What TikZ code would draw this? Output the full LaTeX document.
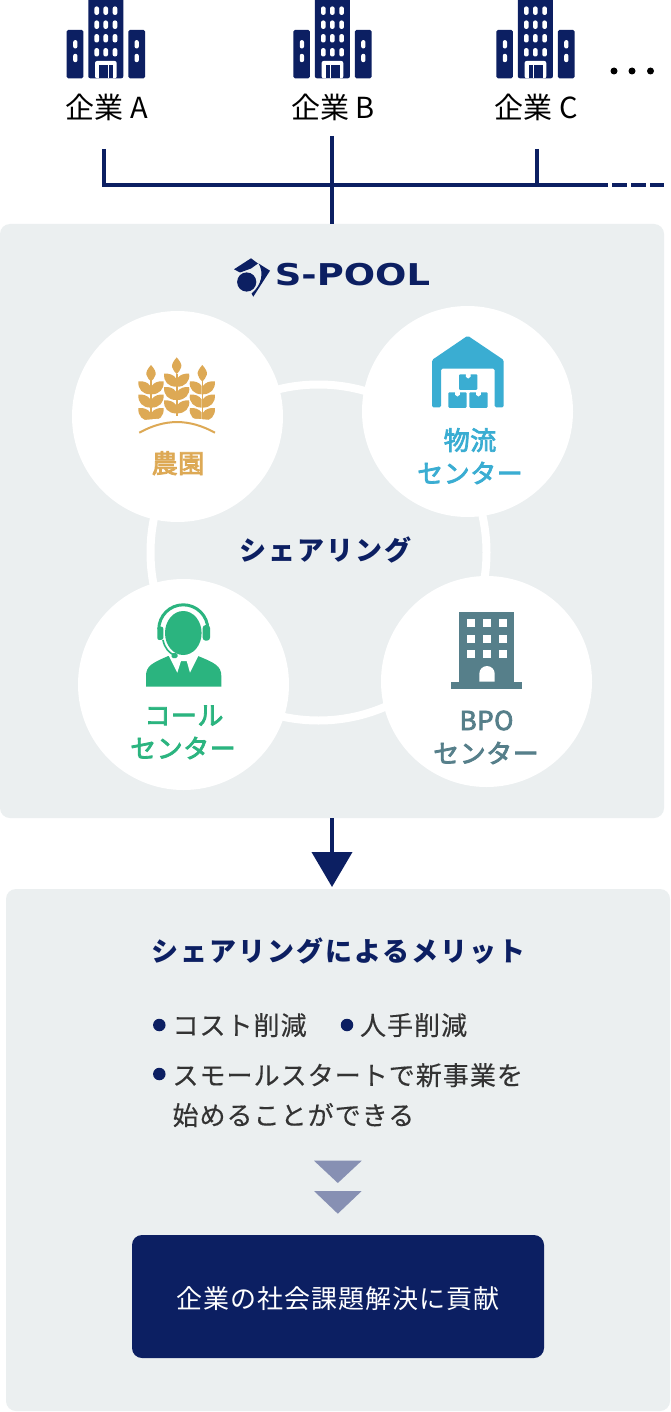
\documentclass[tikz,border=0pt]{standalone}
\usepackage{fontspec}
\usepackage{graphicx}
\usetikzlibrary{arrows.meta}
\setmainfont{Noto Sans CJK JP}
\newfontfamily\logofont{DejaVu Sans}
\definecolor{navy}{HTML}{0C1F62}
\definecolor{panelgrey}{HTML}{EBEFF0}
\definecolor{farmcol}{HTML}{DDA955}
\definecolor{logicol}{HTML}{3AADD2}
\definecolor{callcol}{HTML}{2BB47F}
\definecolor{bpocol}{HTML}{567F8A}
\definecolor{softtri}{HTML}{8790B3}
\definecolor{bodytext}{HTML}{333333}
\newcommand{\spaced}[1]{\addfontfeature{LetterSpace=#1}}
\newcommand{\spacedfat}[2]{\addfontfeature{LetterSpace=#1,FakeBold=#2}}
\tikzset{
  every node/.style={inner sep=0pt,outer sep=0pt},
  panelbox/.style={fill=panelgrey,rounded corners=10pt},
  whitedisc/.style={circle,fill=white,minimum size=211pt},
  buslink/.style={draw=navy,line width=4pt},
  companylabel/.style={anchor=base,font=\fontsize{29}{29}\selectfont,text=black},
  stationlabel/.style={anchor=base,font=\fontsize{26}{26}\selectfont\spacedfat{2}{3}},
  headlabel/.style={anchor=base,text=navy,font=\fontsize{27}{27}\selectfont\bfseries\spaced{7.5}},
  listtext/.style={anchor=base west,text=bodytext,font=\fontsize{26}{26}\selectfont\spacedfat{4}{0.3}},
  bulletdot/.style={circle,fill=navy,minimum size=12.5pt},
  building/.pic={
    \fill[navy,rounded corners=1.5pt] (0,30) rectangle (16.6,78.3);
    \fill[navy,rounded corners=1.5pt] (61.6,30) rectangle (78.3,78.3);
    \fill[navy,rounded corners=2pt] (21.6,-3) rectangle (56.6,78.3);
    \foreach \wx in {30,39,48.3}{\foreach \wy in {10.7,24.7,38.3,52.3}{
      \fill[white,rounded corners=2pt] (\wx-2.3,\wy-4.2) rectangle (\wx+2.3,\wy+4.2);}}
    \foreach \wx in {8.6,70}{\foreach \wy in {44.3,58}{
      \fill[white,rounded corners=2pt] (\wx-2.1,\wy-4.2) rectangle (\wx+2.1,\wy+4.2);}}
    \fill[white,rounded corners=2pt] (28.3,78.3) -- (28.3,61) -- (50,61) -- (50,78.3) -- cycle;
    \fill[navy] (32.3,65.5) rectangle (36.8,78.3);
    \fill[navy] (37.6,65.5) rectangle (41.2,78.3);
    \fill[navy] (42,65.5) rectangle (46.2,78.3);
  },
  leafright/.pic={
    \fill (0.8,4.5) .. controls (3,1) and (8,-0.5) .. (12.5,0) .. controls (13.5,8) and (8,13) .. (0.8,13) -- cycle;
  },
  leafleft/.pic={
    \fill (-0.8,4.5) .. controls (-3,1) and (-8,-0.5) .. (-12.5,0) .. controls (-13.5,8) and (-8,13) .. (-0.8,13) -- cycle;
  },
  wheatstalk/.pic={
    \fill (0,-8.3) .. controls (3,-5) and (5.5,-1) .. (4.5,1.5) .. controls (4,4.5) and (1.5,6.5) .. (0,8.3) .. controls (-1.5,6.5) and (-4,4.5) .. (-4.5,1.5) .. controls (-5.5,-1) and (-3,-5) .. (0,-8.3) -- cycle;
    \draw[line width=1.6pt] (0,8) -- (0,50);
    \foreach \ly in {8,21.3,34.7}{
      \pic at (0,\ly) {leafright};
      \pic at (0,\ly) {leafleft};
    }
  },
  cratebox/.pic={
    \fill[logicol,rounded corners=1pt] (0,0) rectangle (18.3,15.5);
    \fill[white] (6.8,-0.5) -- (11.5,-0.5) -- (11.5,2.5) -- (9.15,4.2) -- (6.8,2.5) -- cycle;
  }
}
\begin{document}
\begin{tikzpicture}[x=1pt,y=-1pt]
\useasboundingbox (0,0) rectangle (670,1412);
\fill[white] (0,0) rectangle (670,1412);

% panels
\node[panelbox,minimum width=664pt,minimum height=594pt] (sharepanel) at (332,521) {};
\node[panelbox,minimum width=664pt,minimum height=522pt] (meritpanel) at (338,1150) {};

% companies
\path (66.7,0) pic {building};
\path (293.3,0) pic {building};
\path (496.3,0) pic {building};
\node[companylabel] (compA) at (107,119) {企業 A};
\node[companylabel] (compB) at (333,119) {企業 B};
\node[companylabel] (compC) at (536,119) {企業 C};
\node[circle,fill=black,minimum size=7pt] (dotA) at (614,71) {};
\node[circle,fill=black,minimum size=7pt] (dotB) at (632,71) {};
\node[circle,fill=black,minimum size=7pt] (dotC) at (650.5,71) {};

% bus
\coordinate (busAtop) at (104.3,149);
\coordinate (busBtop) at (332,136);
\coordinate (busCtop) at (536.7,149);
\coordinate (busEnd) at (608,185);
\coordinate (dashStart) at (612,185);
\coordinate (dashEnd) at (664,185);
\draw[buslink] (busAtop) |- (busEnd);
\draw[buslink] (busBtop) -- (busBtop |- sharepanel.north);
\draw[buslink] (busCtop) -- (busCtop |- busEnd);
\draw[buslink,dash pattern=on 15pt off 4pt] (dashStart) -- (dashEnd);

% arrow between panels
\coordinate (arrowTop) at (332,818);
\coordinate (arrowTip) at (332,887);
\draw[buslink,-{Triangle[length=35pt,width=40pt]}] (arrowTop) -- (arrowTip);

% logo
\fill[navy] (251,258.3) -- (234,269.3) -- (240,272.5) -- (251,268.5) -- (258,263.5) -- cycle;
\fill[navy] (258.5,263.5) -- (270,270.7) -- (253.3,296.7) -- (251.5,293.5) .. controls (262,285) and (264,272) .. (258.5,263.5) -- cycle;
\fill[navy] (246.7,282) circle (9.6);
\node[anchor=center,text=navy] (logo) at (352.5,274.5) {\scalebox{1.23}[1]{\logofont\fontsize{30}{30}\selectfont\bfseries S-POOL}};

% ring and discs
\node[circle,draw=white,line width=8pt,minimum size=336pt] (ring) at (318.5,552.5) {};
\node[whitedisc] (farm) at (177.5,416.5) {};
\node[whitedisc] (logi) at (467.5,411.5) {};
\node[whitedisc] (call) at (183.5,684.5) {};
\node[whitedisc] (bpo) at (486.5,681.5) {};

% farm icon
\begin{scope}[color=farmcol,fill=farmcol]
\path (151,373.3) pic {wheatstalk};
\path (176.7,365.7) pic {wheatstalk};
\path (202.3,373.3) pic {wheatstalk};
\fill[white] (130,422) .. controls (160,417) and (195,417) .. (225,422) -- (225,445) -- (130,445) -- cycle;
\draw[line width=2pt] (139.3,432.7) .. controls (165,418.5) and (189,418.5) .. (215,432.7);
\end{scope}
\node[stationlabel,text=farmcol] (farmlabel) at (178,473) {農園};

% warehouse icon
\fill[logicol,rounded corners=1.5pt] (467.7,335.7) -- (503.7,360) -- (503.7,407.3) -- (494.7,407.3) -- (494.7,368.7) -- (441,368.7) -- (441,407.3) -- (432,407.3) -- (432,360) -- cycle;
\path (459,374.3) pic {cratebox};
\path (448.3,392.3) pic {cratebox};
\path (469.3,392.3) pic {cratebox};
\node[stationlabel,text=logicol] (logilabel1) at (470,450) {物流};
\node[stationlabel,text=logicol] (logilabel2) at (470,483) {センター};

% operator icon
\fill[callcol] (146,686.7) -- (146,676) .. controls (146,666) and (152,663) .. (168.3,656) -- (198,656) .. controls (215,663) and (221.3,666) .. (221.3,676) -- (221.3,686.7) -- cycle;
\fill[white] (168,654) -- (177.3,672.7) -- (181,661) -- (186.7,661) -- (190,672.7) -- (199.3,654) -- cycle;
\fill[callcol] (183.3,633) ellipse (18.3 and 22);
\draw[callcol,line width=3pt] (158.8,629.3) arc[start angle=180,end angle=360,radius=24.5];
\fill[callcol,rounded corners=2pt] (157.3,626.7) rectangle (163.3,640);
\fill[callcol,rounded corners=3pt] (202.7,625) rectangle (210,640.7);
\draw[white,line width=4pt] (161,640) .. controls (163,649) and (168,654) .. (176,657);
\draw[callcol,line width=1.6pt] (163,640) .. controls (164.5,648) and (169,653) .. (175,655.5);
\fill[callcol,rounded corners=1.5pt] (171.5,653) rectangle (177.5,658);
\node[stationlabel,text=callcol] (calllabel1) at (184,725) {コール};
\node[stationlabel,text=callcol] (calllabel2) at (183,758) {センター};

% BPO icon
\fill[bpocol] (459.3,611.7) rectangle (514.3,681.7);
\fill[bpocol] (451.3,681.7) rectangle (522,689.3);
\foreach \wx in {467.3,483,498.7}{\foreach \wy in {619.3,635,650.3}{
  \fill[white] (\wx,\wy) rectangle (\wx+7.8,\wy+7.8);}}
\fill[white] (479.3,681.7) -- (479.3,673.7) arc[start angle=180,end angle=360,radius=7.7] -- (494.7,681.7) -- cycle;
\node[stationlabel,text=bpocol] (bpolabel1) at (486.5,730) {BPO};
\node[stationlabel,text=bpocol] (bpolabel2) at (486,763) {センター};

% share caption
\node[headlabel] (sharecaption) at (325.5,560) {シェアリング};

% merit text
\node[headlabel] (merittitle) at (338.5,961) {シェアリングによるメリット};
\node[bulletdot] (b1) at (159.3,1025) {};
\node[listtext] (t1) at (172.5,1035) {コスト削減};
\node[bulletdot] (b2) at (347,1025) {};
\node[listtext] (t2) at (360,1035) {人手削減};
\node[bulletdot] (b3) at (159.3,1074) {};
\node[listtext] (t3) at (172.5,1085) {スモールスタートで新事業を};
\node[listtext] (t4) at (172.5,1125) {始めることができる};

% small triangles
\fill[softtri] (314,1160.7) -- (361.7,1160.7) -- (337.8,1183) -- cycle;
\fill[softtri] (314,1191) -- (361.7,1191) -- (337.8,1213.7) -- cycle;

% result box
\node[fill=navy,rounded corners=10pt,minimum width=412pt,minimum height=123pt] (result) at (338,1296.5) {};
\node[anchor=base,text=white,font=\fontsize{26}{26}\selectfont\spaced{3.7}] (resulttext) at (338,1308) {企業の社会課題解決に貢献};
\end{tikzpicture}
\end{document}
